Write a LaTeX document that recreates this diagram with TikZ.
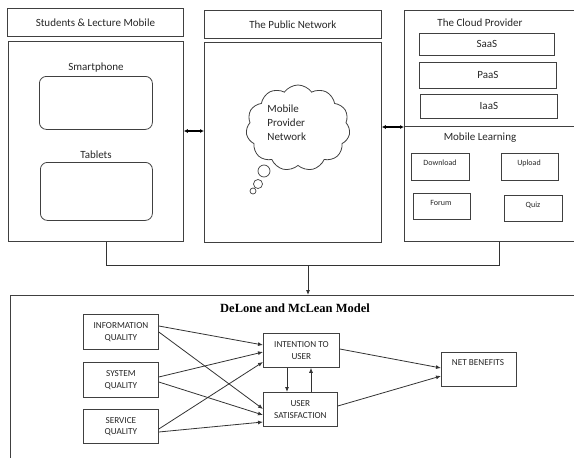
\documentclass[tikz,border=0pt]{standalone}
\usepackage{fontspec}
\setmainfont{Carlito}
\newfontfamily\titlefont{Liberation Serif}
\usetikzlibrary{shapes.symbols,arrows.meta}
\begin{document}
\begin{tikzpicture}[x=1pt,y=-1pt,
  every path/.style={line width=0.8pt},
  box/.style={draw=black!75, line width=0.8pt, rectangle, inner sep=0pt, anchor=north west},
  rbox/.style={box, rounded corners=7pt},
  head/.style={font=\fontsize{11}{13}\selectfont, text=black!85, inner sep=0pt},
  small/.style={font=\fontsize{8}{9}\selectfont, text=black!85, inner sep=0pt},
  caps/.style={font=\fontsize{9.2}{11.5}\selectfont, text=black!85, inner sep=0pt, align=center},
  conn/.style={draw=black!80, line width=0.8pt},
  arr/.style={conn, -{Latex[length=5pt,width=4pt]}},
  dbl/.style={draw=black, line width=1.2pt, {Latex[length=4pt,width=4pt]}-{Latex[length=4pt,width=4pt]}}
]
\useasboundingbox (0,0) rectangle (574,458);
% left column
\node[box, minimum width=176, minimum height=28] (lhead) at (7,8) {};
\node[head] at (lhead.center) {Students \& Lecture Mobile};
\node[box, minimum width=175, minimum height=200] (lmain) at (8,41) {};
\node[head] (smartl) at (96,68) {Smartphone};
\node[rbox, minimum width=113, minimum height=53] (smart) at (39,76) {};
\node[head] (tabl) at (96,155) {Tablets};
\node[rbox, minimum width=112, minimum height=58] (tab) at (40,162) {};
% middle column
\node[box, minimum width=177, minimum height=28] (mhead) at (204,10) {};
\node[head] at (mhead.center) {The Public Network};
\node[box, minimum width=177, minimum height=200] (mmain) at (204,42) {};
\node[cloud, draw=black!75, cloud puffs=11, cloud puff arc=110, aspect=1.2,
      minimum width=104, minimum height=86, inner sep=0pt] (cloud) at (298,128) {};
\node[head, align=left, font=\fontsize{11}{14}\selectfont, anchor=north west] (cloudt) at (267,104) {Mobile\\Provider\\Network};
\node[circle, draw=black!75, line width=0.7pt, minimum size=12, inner sep=0pt] (b1) at (264,171) {};
\node[circle, draw=black!75, line width=0.7pt, minimum size=9, inner sep=0pt] (b2) at (258,184) {};
\node[circle, draw=black!75, line width=0.7pt, minimum size=6, inner sep=0pt] (b3) at (253,191) {};
% right column
\node[box, minimum width=190, minimum height=231] (rmain) at (404,10) {};
\coordinate (rdivR) at (580,126);
\draw[draw=black!75] (rmain.west |- rdivR) -- (rdivR);
\node[head] (cloudp) at (480,23) {The Cloud Provider};
\node[box, minimum width=135, minimum height=22] (saas) at (419,33) {};
\node[head] at (saas.center) {SaaS};
\node[box, minimum width=137, minimum height=26] (paas) at (419,62) {};
\node[head] at (paas.center) {PaaS};
\node[box, minimum width=137, minimum height=24] (iaas) at (420,94) {};
\node[head] at (iaas.center) {IaaS};
\node[head] (ml) at (480,138) {Mobile Learning};
\node[box, minimum width=58, minimum height=27] (dl) at (411,153) {};
\node[small] at (440,163) {Download};
\node[box, minimum width=57, minimum height=27] (ul) at (501,153) {};
\node[small] at (529,163) {Upload};
\node[box, minimum width=57, minimum height=26] (fo) at (413,193) {};
\node[small] at (441,203) {Forum};
\node[box, minimum width=58, minimum height=26] (qz) at (504,195) {};
\node[small] at (533,205) {Quiz};
% inter-column arrows
\draw[dbl] (lmain.east |- 0,131) -- (mmain.west |- 0,131);
\draw[dbl] (mmain.east |- 0,127) -- (rmain.west |- 0,127);
% bottom box
\node[box, minimum width=590, minimum height=200] (bot) at (10,295) {};
\node[font=\titlefont\bfseries\fontsize{12.5}{14}\selectfont, inner sep=0pt] (title) at (295,308) {DeLone and McLean Model};
% joining connector
\coordinate (jL) at (106,265);
\coordinate (jR) at (499,265);
\coordinate (j) at (308,265);
\draw[conn] (lmain.south -| jL) -- (jL) -- (jR) -- (rmain.south -| jR);
\draw[arr] (j) -- (bot.north -| j);
% DeLone boxes
\node[box, minimum width=75, minimum height=35] (info) at (83,314) {};
\node[caps] at (info.center) {INFORMATION\\QUALITY};
\node[box, minimum width=75, minimum height=35] (sys) at (83,362) {};
\node[caps] at (sys.center) {SYSTEM\\QUALITY};
\node[box, minimum width=75, minimum height=34] (serv) at (83,409) {};
\node[caps] at (serv.center) {SERVICE\\QUALITY};
\node[box, minimum width=76, minimum height=34] (int) at (263,333) {};
\node[caps] at (int.center) {INTENTION TO\\USER};
\node[box, minimum width=74, minimum height=34] (sat) at (263,392) {};
\node[caps] at (sat.center) {USER\\SATISFACTION};
\node[box, minimum width=75, minimum height=34] (net) at (441,352) {};
\node[caps] at (478,363) {NET BENEFITS};
% DeLone arrows
\draw[arr] (info.east |- 0,326) -- (int.west |- 0,345);
\draw[arr] (info.east |- 0,332) -- (sat.west |- 0,409);
\draw[arr] (sys.east |- 0,377) -- (int.west |- 0,352);
\draw[arr] (sys.east |- 0,382) -- (sat.west |- 0,415);
\draw[arr] (serv.east |- 0,429) -- (int.west |- 0,362);
\draw[arr] (serv.east |- 0,432) -- (sat.west |- 0,422);
\draw[arr] (int.south -| 287,0) -- (sat.north -| 287,0);
\draw[arr] (sat.north -| 311,0) -- (int.south -| 311,0);
\draw[arr] (int.east |- 0,349) -- (net.west |- 0,368);
\draw[arr] (sat.east |- 0,406) -- (net.west |- 0,376);
\end{tikzpicture}
\end{document}
